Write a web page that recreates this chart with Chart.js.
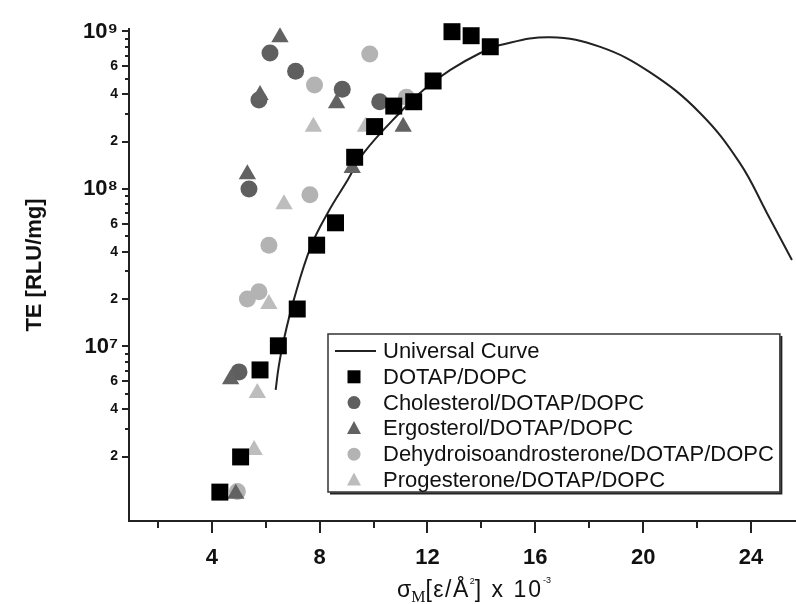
<!DOCTYPE html>
<html>
<head>
<meta charset="utf-8">
<script src="https://cdn.jsdelivr.net/npm/chart.js@4.4.1/dist/chart.umd.min.js"></script>
<style>
  html, body { margin: 0; padding: 0; background: #fff; }
  #chart_box { width: 796px; height: 604px; }
</style>
</head>
<body>
<div id="chart_box"><canvas id="te_chart" width="796" height="604"></canvas></div>
<script>
// values: sigma_M (x 10^-3 e/A^2) against TE (RLU/mg)
const curve_x = [6.37, 6.48, 6.67, 7.04, 7.67, 8.30, 9.04, 9.63, 11.0, 11.85, 12.85, 13.96, 14.70, 16.56, 18.41, 20.26, 22.11, 23.59, 24.59, 25.52];
const curve_y = [5.3e6, 7.4e6, 1.1e7, 1.97e7, 4.29e7, 7.05e7, 1.14e8, 1.69e8, 3.08e8, 4.25e8, 5.7e8, 7.3e8, 8.2e8, 9.2e8, 7.98e8, 5.5e8, 3.04e8, 1.46e8, 7.05e7, 3.54e7];

const dotap_x = [4.30, 5.07, 5.79, 6.47, 7.17, 7.89, 8.59, 9.30, 10.04, 10.75, 11.49, 12.21, 12.91, 13.62, 14.33];
const dotap_y = [1.19e6, 1.99e6, 7.1e6, 1.01e7, 1.73e7, 4.4e7, 6.1e7, 1.59e8, 2.49e8, 3.36e8, 3.58e8, 4.85e8, 9.97e8, 9.4e8, 8.0e8];

const chol_x = [5.01, 5.38, 5.75, 6.16, 7.11, 8.84, 10.23];
const chol_y = [6.9e6, 1.0e8, 3.67e8, 7.3e8, 5.6e8, 4.3e8, 3.58e8];

const ergo_x = [4.89, 4.70, 5.32, 5.79, 6.53, 8.63, 9.21, 11.1];
const ergo_y = [1.16e6, 6.2e6, 1.24e8, 3.95e8, 9.2e8, 3.5e8, 1.36e8, 2.48e8];

const dhea_x = [4.95, 5.32, 5.75, 6.12, 7.64, 7.81, 9.86, 11.22];
const dhea_y = [1.2e6, 2.0e7, 2.23e7, 4.4e7, 9.2e7, 4.57e8, 7.2e8, 3.82e8];

const prog_x = [5.57, 5.69, 6.12, 6.68, 7.77, 9.70];
const prog_y = [2.2e6, 5.07e6, 1.86e7, 8.0e7, 2.48e8, 2.48e8];

const x_tick_values = [2, 4, 6, 8, 10, 12, 14, 16, 18, 20, 22, 24];
const x_tick_labels = [4, 8, 12, 16, 20, 24];
const y_decades = [6, 7, 8];
const y_mantissas = [1, 2, 3, 4, 5, 6, 7, 8, 9];
const y_labelled_mantissas = [2, 4, 6];
const superscripts = { 6: "\u2076", 7: "\u2077", 8: "\u2078", 9: "\u2079" };

function to_points(xs, ys){
    const points = [];
    for(let i = 0; i < xs.length; i++){
        points.push({ x: xs[i], y: ys[i] });
    }
    return points;
}

let y_tick_values = [];
for(let d of y_decades){
    for(let m of y_mantissas){
        if(d === 6 && m === 1) continue;
        y_tick_values.push(m * Math.pow(10, d));
    }
}
y_tick_values.push(1e9);

function decade_of(v){
    const e = Math.round(Math.log10(v));
    return Math.abs(v - Math.pow(10, e)) < v * 1e-6 ? e : null;
}
function mantissa_of(v){
    const e = Math.floor(Math.log10(v) + 1e-9);
    return Math.round(v / Math.pow(10, e));
}

const sans = '"Liberation Sans", Arial, sans-serif';

// tick marks of two lengths, axis titles and the boxed legend
const decorations = {
    id: "decorations",
    afterDraw(chart){
        const ctx = chart.ctx;
        const xs = chart.scales.x;
        const ys = chart.scales.y;
        const area = chart.chartArea;
        ctx.save();
        ctx.strokeStyle = "#222";
        ctx.lineWidth = 2;

        for(let v of x_tick_values){
            const px = Math.round(xs.getPixelForValue(v));
            const len = x_tick_labels.includes(v) ? 12 : 7;
            ctx.beginPath();
            ctx.moveTo(px, area.bottom);
            ctx.lineTo(px, area.bottom + len);
            ctx.stroke();
        }
        for(let v of y_tick_values){
            const py = Math.round(ys.getPixelForValue(v));
            const labelled = decade_of(v) !== null || y_labelled_mantissas.includes(mantissa_of(v));
            const len = labelled ? 7 : 4;
            ctx.beginPath();
            ctx.moveTo(area.left, py);
            ctx.lineTo(area.left - len, py);
            ctx.stroke();
        }

        // y title
        ctx.fillStyle = "#111";
        ctx.save();
        ctx.translate(35, 265);
        ctx.rotate(-Math.PI / 2);
        ctx.font = "bold 22px " + sans;
        ctx.textAlign = "center";
        ctx.textBaseline = "middle";
        ctx.fillText("TE [RLU/mg]", 0, 0);
        ctx.restore();

        // x title with sub- and superscripts, laid out piece by piece
        const parts = [
            { text: "\u03c3", font: "23px " + sans, dy: 0, gap: 0 },
            { text: "M", font: '16px "Liberation Serif", serif', dy: 5, gap: 0 },
            { text: "[\u03b5/\u00c5", font: "23px " + sans, dy: 0, gap: 1.5 },
            { text: "2", font: "9px " + sans, dy: -13, gap: 0 },
            { text: "] x 10", font: "23px " + sans, dy: 0, gap: 2 },
            { text: "-3", font: "9px " + sans, dy: -14, gap: 0 }
        ];
        ctx.textAlign = "left";
        ctx.textBaseline = "alphabetic";
        let total = 0;
        for(let p of parts){
            ctx.font = p.font;
            ctx.letterSpacing = p.gap + "px";
            p.w = ctx.measureText(p.text).width;
            total += p.w;
        }
        let tx = 474 - total / 2;
        for(let p of parts){
            ctx.font = p.font;
            ctx.letterSpacing = p.gap + "px";
            ctx.fillText(p.text, tx, 597 + p.dy);
            tx += p.w;
        }
        ctx.letterSpacing = "0px";

        // legend
        const datasets = chart.data.datasets;
        const box_left = 328, box_top = 334, row_h = 25.8, first_row = 351;
        const text_x = 383, sym_x = 354;
        ctx.font = "22px " + sans;
        let max_w = 0;
        for(let ds of datasets){
            max_w = Math.max(max_w, ctx.measureText(ds.label).width);
        }
        const box_right = text_x + max_w + 6;
        const box_bottom = 492;
        ctx.fillStyle = "#fff";
        ctx.fillRect(box_left, box_top, box_right - box_left, box_bottom - box_top);
        ctx.lineWidth = 1.5;
        ctx.strokeStyle = "#333";
        ctx.strokeRect(box_left, box_top, box_right - box_left, box_bottom - box_top);
        ctx.lineWidth = 2;
        ctx.strokeStyle = "#222";
        ctx.beginPath();
        ctx.moveTo(box_left + 2, box_bottom + 1.5);
        ctx.lineTo(box_right + 1.5, box_bottom + 1.5);
        ctx.lineTo(box_right + 1.5, box_top + 2);
        ctx.stroke();

        ctx.textBaseline = "middle";
        for(let i = 0; i < datasets.length; i++){
            const ds = datasets[i];
            const cy = first_row + i * row_h;
            if(ds.type === "line"){
                ctx.strokeStyle = ds.borderColor;
                ctx.lineWidth = 2;
                ctx.beginPath();
                ctx.moveTo(335, cy);
                ctx.lineTo(376, cy);
                ctx.stroke();
            } else {
                ctx.fillStyle = ds.backgroundColor;
                ctx.beginPath();
                if(ds.pointStyle === "rect"){
                    ctx.rect(sym_x - 6.5, cy - 6.5, 13, 13);
                } else if(ds.pointStyle === "circle"){
                    ctx.arc(sym_x, cy, 6.5, 0, Math.PI * 2);
                } else {
                    ctx.moveTo(sym_x, cy - 7.5);
                    ctx.lineTo(sym_x + 7, cy + 5.5);
                    ctx.lineTo(sym_x - 7, cy + 5.5);
                    ctx.closePath();
                }
                ctx.fill();
            }
            ctx.fillStyle = "#111";
            ctx.font = "22px " + sans;
            ctx.fillText(ds.label, text_x, cy + 1);
        }
        ctx.restore();
    }
};

const canvas = document.getElementById("te_chart");
new Chart(canvas.getContext("2d"), {
    type: "scatter",
    data: {
        datasets: [
            {
                type: "line",
                label: "Universal Curve",
                data: to_points(curve_x, curve_y),
                borderColor: "#222",
                borderWidth: 2,
                pointRadius: 0,
                tension: 0.4,
                fill: false,
                clip: false,
                order: 6
            },
            {
                label: "DOTAP/DOPC",
                data: to_points(dotap_x, dotap_y),
                pointStyle: "rect",
                pointRadius: 12,
                backgroundColor: "#000",
                borderWidth: 0,
                clip: false,
                order: 1
            },
            {
                label: "Cholesterol/DOTAP/DOPC",
                data: to_points(chol_x, chol_y),
                pointStyle: "circle",
                pointRadius: 8.5,
                backgroundColor: "#5f5f5f",
                borderWidth: 0,
                clip: false,
                order: 3
            },
            {
                label: "Ergosterol/DOTAP/DOPC",
                data: to_points(ergo_x, ergo_y),
                pointStyle: "triangle",
                pointRadius: 10,
                backgroundColor: "#626262",
                borderWidth: 0,
                clip: false,
                order: 2
            },
            {
                label: "Dehydroisoandrosterone/DOTAP/DOPC",
                data: to_points(dhea_x, dhea_y),
                pointStyle: "circle",
                pointRadius: 8.5,
                backgroundColor: "#b3b3b3",
                borderWidth: 0,
                clip: false,
                order: 5
            },
            {
                label: "Progesterone/DOTAP/DOPC",
                data: to_points(prog_x, prog_y),
                pointStyle: "triangle",
                pointRadius: 10,
                backgroundColor: "#bdbdbd",
                borderWidth: 0,
                clip: false,
                order: 4
            }
        ]
    },
    options: {
        responsive: false,
        animation: false,
        layout: { autoPadding: false, padding: { top: 29, right: 0, bottom: 0, left: 0 } },
        plugins: {
            legend: { display: false },
            tooltip: { enabled: false }
        },
        scales: {
            x: {
                type: "linear",
                min: 0.93,
                max: 25.67,
                grid: { display: true, drawOnChartArea: false, drawTicks: false },
                border: { display: true, color: "#222", width: 2 },
                ticks: {
                    padding: 24,
                    color: "#111",
                    autoSkip: false,
                    maxRotation: 0,
                    font: { family: sans, size: 22, weight: "bold" },
                    callback: function(value){
                        return x_tick_labels.includes(value) ? String(value) : "";
                    }
                },
                afterBuildTicks: function(scale){
                    scale.ticks = x_tick_values.map(v => ({ value: v }));
                },
                afterFit: function(scale){
                    scale.height = 83;
                }
            },
            y: {
                type: "logarithmic",
                min: 7.8e5,
                max: 1.037e9,
                grid: { display: true, drawOnChartArea: false, drawTicks: false },
                border: { display: true, color: "#222", width: 2 },
                ticks: {
                    padding: 11,
                    color: "#111",
                    autoSkip: false,
                    font: function(ctx){
                        if(ctx.tick && decade_of(ctx.tick.value) !== null){
                            return { family: sans, size: 22, weight: "bold" };
                        }
                        return { family: sans, size: 14, weight: "bold" };
                    },
                    callback: function(value){
                        const d = decade_of(value);
                        if(d !== null) return "10" + superscripts[d];
                        const m = mantissa_of(value);
                        return y_labelled_mantissas.includes(m) ? String(m) : "";
                    }
                },
                afterBuildTicks: function(scale){
                    scale.ticks = y_tick_values.map(v => ({ value: v }));
                },
                afterFit: function(scale){
                    scale.width = 129;
                }
            }
        }
    },
    plugins: [decorations]
});
</script>
</body>
</html>
